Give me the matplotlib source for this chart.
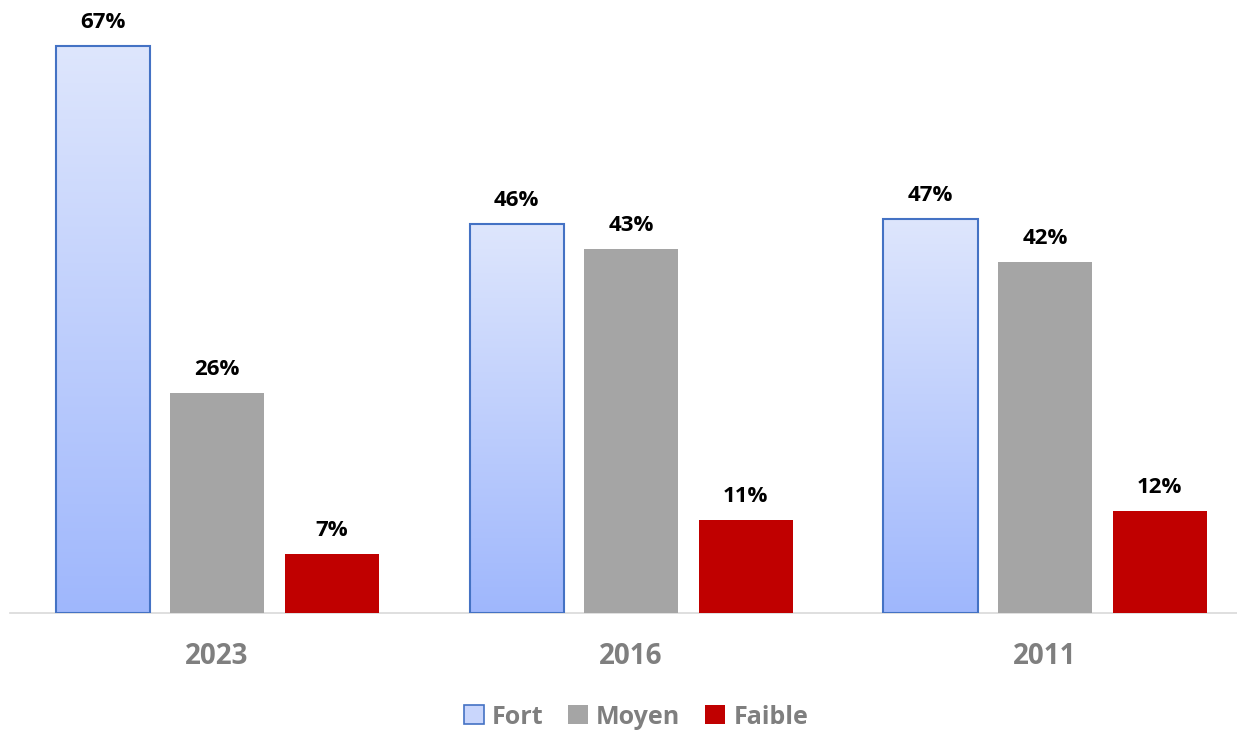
import matplotlib
matplotlib.use("Agg")
import matplotlib.pyplot as plt
import numpy as np
from matplotlib.patches import Patch

years = ["2023", "2016", "2011"]
series = ["Fort", "Moyen", "Faible"]
fort = [67, 46, 46.6]
moyen = [26, 43, 41.5]
faible = [7, 11, 12]

W, H, DPI = 1237, 732, 100
fig = plt.figure(figsize=(W / DPI, H / DPI), dpi=DPI)
ax = fig.add_axes([10 / W, (H - 613) / H, (W - 10) / W, 613 / H])

bw = 94 / 414
step = 114.5 / 414
x = np.arange(len(years))
fnt = "Open Sans"

colors = {"Moyen": "#a5a5a5", "Faible": "#c00000"}
data = {"Fort": fort, "Moyen": moyen, "Faible": faible}

grad = np.linspace(0, 1, 256).reshape(-1, 1)
top = np.array([0xde, 0xe6, 0xfd]) / 255
bot = np.array([0x9f, 0xb7, 0xfc]) / 255
img = (bot[None, None, :] * (1 - grad[..., None]) + top[None, None, :] * grad[..., None])

for i, s in enumerate(series):
    off = (i - 1) * step
    vals = data[s]
    if s == "Fort":
        bars = ax.bar(x + off, vals, bw, facecolor="none", edgecolor="#4472c4", linewidth=1.5, zorder=3)
        for b in bars:
            x0 = b.get_x()
            w, h = b.get_width(), b.get_height()
            im = ax.imshow(img, extent=[x0, x0 + w, 0, h], origin="lower", aspect="auto", zorder=2)
            im.set_clip_path(b)
    else:
        bars = ax.bar(x + off, vals, bw, color=colors[s], zorder=3)
    for xi, v in zip(x, vals):
        ax.annotate(f"{round(v + 1e-9):d}%", (xi + off, v), xytext=(0, 13), textcoords="offset points",
                    ha="center", va="baseline", fontsize=16, fontweight="bold", color="#000000",
                    family=fnt)

ax.set_xlim(-0.5, -0.5 + (W - 10) / 414)
ax.set_ylim(0, 613 / (567 / 67))
ax.set_xticks(x)
ax.set_xticklabels(years, fontsize=20, fontweight="bold", color="#7f7f7f", family=fnt)
ax.tick_params(axis="x", length=0, pad=21)
ax.set_yticks([])
for sp in ["top", "right", "left"]:
    ax.spines[sp].set_visible(False)
ax.spines["bottom"].set_color("#d9d9d9")
ax.spines["bottom"].set_linewidth(1.2)
ax.set_facecolor("none")

handles = [Patch(facecolor="#c9d6fc", edgecolor="#4472c4", linewidth=1.2, label="Fort"),
           Patch(facecolor="#a5a5a5", label="Moyen"),
           Patch(facecolor="#c00000", label="Faible")]
fig.legend(handles=handles, loc="center", bbox_to_anchor=(636 / W, 1 - 717 / H), ncol=3,
           frameon=False, prop={"family": fnt, "weight": "bold", "size": 18},
           labelcolor="#7f7f7f", handlelength=0.8, handleheight=0.8, handletextpad=0.32,
           columnspacing=1.0)

fig.savefig("out.png", dpi=DPI)
